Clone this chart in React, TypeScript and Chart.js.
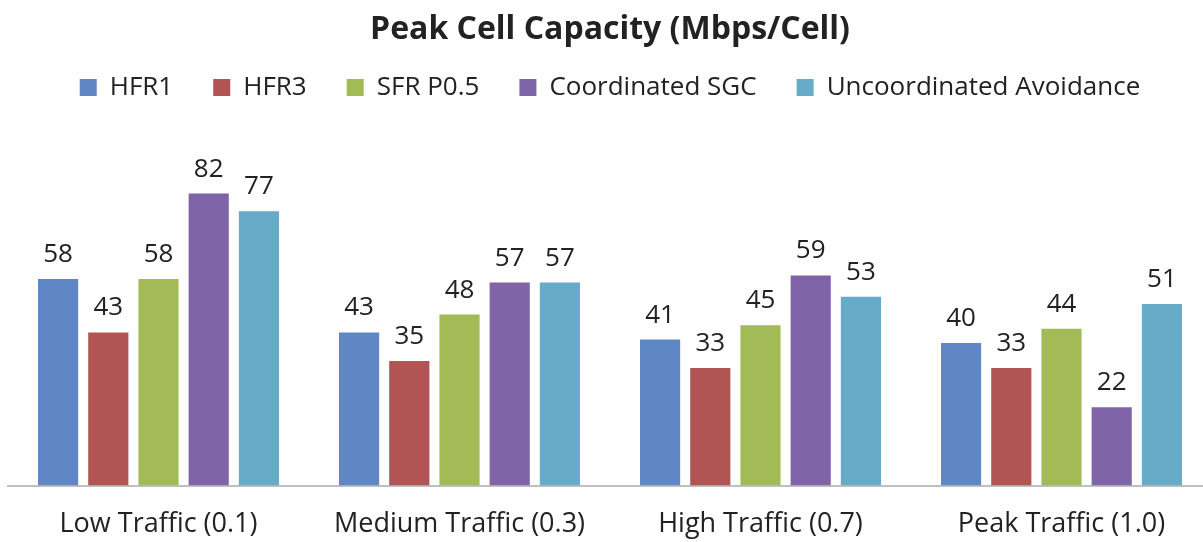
import React, { useEffect, useRef } from "react";
import { Chart, registerables } from "chart.js";

Chart.register(...registerables);

const categories = ["Low Traffic (0.1)", "Medium Traffic (0.3)", "High Traffic (0.7)", "Peak Traffic (1.0)"];
const seriesNames = ["HFR1", "HFR3", "SFR P0.5", "Coordinated SGC", "Uncoordinated Avoidance"];
const hfr1 = [58, 43, 41, 40];
const hfr3 = [43, 35, 33, 33];
const sfr = [58, 48, 45, 44];
const coordSgc = [82, 57, 59, 22];
const uncoord = [77, 57, 53, 51];
const colors = ["#5F87C6", "#B05553", "#A2BB57", "#7F65A8", "#67ABC9"];

const FONT = "'Open Sans', 'Noto Sans', sans-serif";

const dataLabels = {
  id: "dataLabels",
  afterDatasetsDraw(chart: any) {
    const ctx = chart.ctx;
    ctx.save();
    ctx.font = `26px ${FONT}`;
    ctx.fillStyle = "#222";
    ctx.textAlign = "center";
    ctx.textBaseline = "alphabetic";
    chart.data.datasets.forEach((ds: any, i: number) => {
      const meta = chart.getDatasetMeta(i);
      meta.data.forEach((bar: any, j: number) => {
        ctx.fillText(String(ds.data[j]), bar.x, bar.y - 17);
      });
    });
    ctx.restore();
  },
};

const legendSpace = {
  id: "legendSpace",
  beforeInit(chart: any) {
    const legend = chart.legend;
    if (!legend) return;
    const origFit = legend.fit;
    legend.fit = function () {
      origFit.bind(legend)();
      this.height += 19;
    };
  },
};

export default function App() {
  const ref = useRef<HTMLCanvasElement>(null);
  useEffect(() => {
    document.body.style.margin = "0";
    const all = [hfr1, hfr3, sfr, coordSgc, uncoord];
    const chart = new Chart(ref.current!, {
      type: "bar",
      data: {
        labels: categories,
        datasets: all.map((d, i) => ({
          label: seriesNames[i],
          data: d,
          backgroundColor: colors[i],
          barPercentage: 0.8,
          categoryPercentage: 0.834,
        })),
      },
      options: {
        animation: false,
        responsive: false,
        maintainAspectRatio: false,
        layout: { padding: { left: 8, right: 8, bottom: 0 } },
        plugins: {
          title: {
            display: true,
            text: "Peak Cell Capacity (Mbps/Cell)",
            font: { family: FONT, size: 32, weight: "bold" },
            color: "#222",
            padding: { top: 11, bottom: -15 },
          },
          legend: {
            position: "top",
            labels: {
              font: { family: FONT, size: 26 },
              color: "#222",
              boxWidth: 17,
              boxHeight: 17,
              padding: 40,
            },
          },
          tooltip: { enabled: false },
        },
        scales: {
          x: {
            grid: { display: false, drawTicks: false },
            border: { display: true, color: "#BFBFBF", width: 2 },
            ticks: { font: { family: FONT, size: 27 }, color: "#222", padding: 23 },
          },
          y: {
            display: false,
            min: 0,
            max: 100,
          },
        },
      },
      plugins: [legendSpace, dataLabels],
    });
    return () => chart.destroy();
  }, []);
  return (
    <div style={{ width: 1203, height: 542, overflow: "hidden" }}>
      <canvas ref={ref} width={1220} height={564} style={{ display: "block" }} />
    </div>
  );
}
